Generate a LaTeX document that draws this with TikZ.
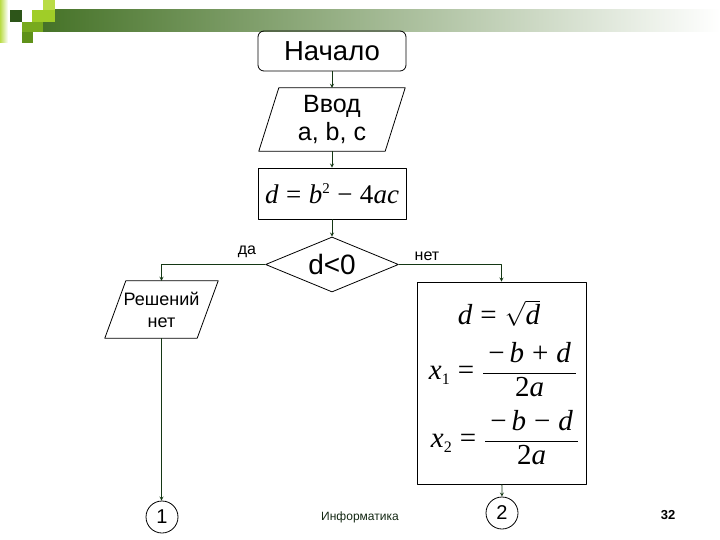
\documentclass[tikz,border=0pt]{standalone}
\usepackage{fontspec}
\setmainfont{Liberation Sans}
\newfontfamily\tnr{Liberation Serif}
\usetikzlibrary{shapes.geometric,arrows}
\definecolor{linegreen}{RGB}{20,55,20}
\definecolor{bardark}{RGB}{70,115,40}
\definecolor{barmid}{RGB}{170,180,155}
\definecolor{sqdark}{RGB}{45,85,25}
\definecolor{sqlight}{RGB}{160,205,40}
\definecolor{sqpale}{RGB}{185,220,70}
\definecolor{sqmid}{RGB}{120,170,30}
\definecolor{sqdeep}{RGB}{95,145,25}
\definecolor{foottext}{RGB}{20,40,20}
\newcommand{\fs}[1]{\fontsize{#1}{#1}\selectfont}
\begin{document}
\begin{tikzpicture}[x=1pt,y=-1pt,>=stealth,line join=round,
    blk/.style={draw,line width=.8pt,inner sep=0pt},
    io/.style={inner sep=0pt,align=center},
    edge/.style={line width=.8pt},
    con/.style={->,draw=linegreen,line width=.8pt},
    lbl/.style={font=\fs{16}}]
    \useasboundingbox (0,0) rectangle (720,540);
    % header bar
    \shade[left color=bardark,middle color=barmid,right color=white] (43,10) rectangle (720,32);
    \shade[left color=sqpale,right color=white] (0,0) rectangle (8,43);
    \fill[sqdark] (10,10) rectangle (22,22);
    \fill[sqlight] (32,10) rectangle (55,22);
    \fill[sqpale] (43,0) rectangle (55,10);
    \fill[sqmid] (22,22) rectangle (43,32);
    \fill[sqdeep] (22,32) rectangle (33,43);
    % blocks
    \node[blk,rounded corners=6pt,minimum width=148,minimum height=40,font=\fs{27.5}] (start) at (332,51) {Начало};
    \node[io,minimum width=126,minimum height=63,font=\fontsize{25}{28}\selectfont] (input) at (332,119.5) {Ввод\\a, b, c};
    \draw[edge] ([xshift=10]input.north west) -- ([xshift=10]input.north east)
        -- ([xshift=-10]input.south east) -- ([xshift=-10]input.south west) -- cycle;
    \node[blk,minimum width=148,minimum height=51] (calc) at (332,193.5)
        {\tnr\fs{27}\textit{d}\;=\;\textit{b}\raisebox{10pt}{\fs{15}2}\;−\;4\textit{ac}};
    \node[blk,diamond,aspect=2.4,minimum width=133,minimum height=55,font=\fs{28}] (cond) at (332,264.5) {d<0};
    \node[lbl] (yes) at (247,252) {да};
    \node[lbl] (no) at (427,256) {нет};
    \node[io,minimum width=92,minimum height=57,font=\fontsize{18}{22}\selectfont] (nosol) at (161.5,309.5) {Решений\\нет};
    \draw[edge] ([xshift=10.5]nosol.north west) -- ([xshift=10.5]nosol.north east)
        -- ([xshift=-10.5]nosol.south east) -- ([xshift=-10.5]nosol.south west) -- cycle;
    \node[blk,minimum width=169,minimum height=202] (roots) at (501.5,383) {};
    \node (rootd) at (499,313) {\tnr\fs{29}\textit{d}\;=\;$\sqrt{\hbox{\textit{d}}}$};
    \node (rootx1) at (503,370) {\tnr\fs{29}\textit{x}\raisebox{-5pt}{\fs{16}1}\;=\;$\displaystyle\frac{\hbox{\,−\,\textit{b}\;+\;\textit{d}\,}}{\hbox{2\textit{a}}}$};
    \node (rootx2) at (505,438) {\tnr\fs{29}\textit{x}\raisebox{-5pt}{\fs{16}2}\;=\;$\displaystyle\frac{\hbox{\,−\,\textit{b}\;−\;\textit{d}\,}}{\hbox{2\textit{a}}}$};
    \node[blk,circle,minimum size=32,font=\fs{20}] (conn1) at (162,517) {1};
    \node[blk,circle,minimum size=32,font=\fs{20}] (conn2) at (502,513) {2};
    % connectors
    \draw[con] (start) -- (input);
    \draw[con] (input) -- (calc);
    \draw[con] (calc) -- (cond);
    \draw[con] (cond.west) -| (nosol.north);
    \draw[con] (cond.east) -| (roots.north);
    \draw[con] (nosol.south) -- (nosol.south |- conn1.north);
    \draw[con] (roots) -- (conn2);
    % footer
    \node[font=\fs{12},text=foottext] (footer) at (360,517) {Информатика};
    \node[font=\bfseries\fs{13}] (pagenum) at (668,515) {32};
\end{tikzpicture}
\end{document}
